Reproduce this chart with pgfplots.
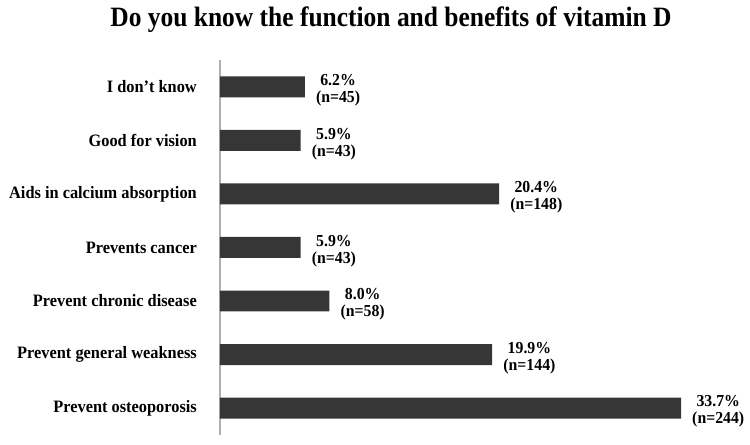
\documentclass[border=0pt]{standalone}
\usepackage{fontspec}
\setmainfont{Liberation Serif}
\newfontfamily\titlefont{Liberation Serif}[FakeStretch=0.91]
\newfontfamily\labfont{Liberation Serif}[FakeStretch=0.94]
\usepackage{pgfplots}
\usepackage{pgfplotstable}
\pgfplotsset{compat=1.18}
\definecolor{barcolor}{HTML}{363636}
\definecolor{axcolor}{HTML}{AFAFAF}
\pgfplotstableread{
y x pct n
6 6.2 6.2 45
5 5.9 5.9 43
4 20.4 20.4 148
3 5.9 5.9 43
2 8.0 8.0 58
1 19.9 19.9 144
0 33.7 33.7 244
}\datatable
\begin{document}
\begin{tikzpicture}
\begin{axis}[
  scale only axis,
  width=520pt, height=375pt,
  xmin=0, xmax=38,
  ymin=-0.5, ymax=6.5,
  clip=false,
  axis x line=none,
  axis y line*=left,
  y axis line style={axcolor, line width=1.5pt},
  xtick=\empty,
  ytick={0,...,6},
  yticklabels={Prevent osteoporosis, Prevent general weakness, Prevent chronic disease, Prevents cancer, Aids in calcium absorption, Good for vision, I don’t know},
  major tick length=0pt,
  yticklabel style={font=\labfont\bfseries\fontsize{17.4}{20}\selectfont, inner sep=0pt, xshift=-23pt, text=black},
  title={Do you know the function and benefits of vitamin D},
  title style={at={(0.329,1.072)}, anchor=base, inner sep=0pt, font=\titlefont\bfseries\fontsize{28}{32}\selectfont},
]
\path (axis cs:-16.08,-0.687) rectangle (axis cs:38.74,7.62);
\addplot[xbar, fill=barcolor, draw=none, bar width=21pt,
  point meta=explicit symbolic,
  visualization depends on={\thisrow{n}\as\nval},
  nodes near coords={\pgfplotspointmeta\%\\(n=\pgfmathprintnumber[/pgf/number format/assume math mode=true,fixed,precision=0]{\nval})},
  every node near coord/.append style={anchor=west, align=center, inner sep=0pt, xshift=11pt, yshift=-3.5pt, font=\labfont\bfseries\fontsize{16.8}{17}\selectfont, text=black}]
  table[x=x, y=y, meta=pct]{\datatable};
\end{axis}
\end{tikzpicture}
\end{document}
